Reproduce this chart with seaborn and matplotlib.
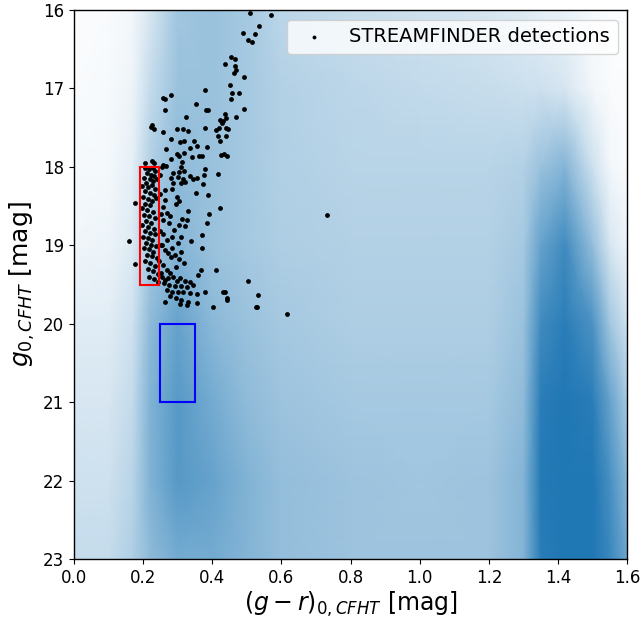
import numpy as np
import matplotlib
matplotlib.use("Agg")
import matplotlib.pyplot as plt
import seaborn as sns
import pandas as pd
from matplotlib.colors import LinearSegmentedColormap
from matplotlib.patches import Rectangle

# background field density (0 = empty, 1 = saturated)
grid_colour = [0.0, 0.1, 0.17, 0.22, 0.3, 0.4, 0.5, 0.6, 0.8, 1.0, 1.2, 1.3, 1.35, 1.42, 1.5, 1.55, 1.6]
grid_mag = [16, 17, 18, 19, 20, 21, 22, 23]
density_16 = [0.02, 0.03, 0.06, 0.18, 0.42, 0.45, 0.40, 0.30, 0.25, 0.22, 0.18, 0.15, 0.12, 0.10, 0.04, 0.02, 0.02]
density_17 = [0.03, 0.04, 0.08, 0.26, 0.45, 0.45, 0.40, 0.34, 0.30, 0.27, 0.25, 0.23, 0.22, 0.18, 0.06, 0.03, 0.02]
density_18 = [0.04, 0.05, 0.12, 0.35, 0.50, 0.45, 0.40, 0.35, 0.32, 0.32, 0.32, 0.34, 0.45, 0.55, 0.22, 0.06, 0.03]
density_19 = [0.07, 0.08, 0.16, 0.40, 0.55, 0.45, 0.40, 0.36, 0.34, 0.34, 0.34, 0.40, 0.68, 0.85, 0.48, 0.18, 0.08]
density_20 = [0.14, 0.14, 0.22, 0.50, 0.68, 0.52, 0.45, 0.40, 0.36, 0.36, 0.36, 0.45, 0.85, 0.95, 0.80, 0.42, 0.22]
density_21 = [0.18, 0.18, 0.27, 0.56, 0.75, 0.62, 0.50, 0.44, 0.40, 0.40, 0.40, 0.50, 0.95, 1.00, 0.95, 0.68, 0.40]
density_22 = [0.22, 0.22, 0.32, 0.56, 0.75, 0.68, 0.56, 0.48, 0.44, 0.42, 0.44, 0.55, 0.98, 1.00, 1.00, 0.82, 0.55]
density_23 = [0.26, 0.26, 0.36, 0.50, 0.62, 0.62, 0.55, 0.48, 0.44, 0.44, 0.44, 0.55, 0.95, 1.00, 1.00, 0.88, 0.65]

# STREAMFINDER detections (g-r, g)
sf_colour = [
    0.510, 0.569, 0.536, 0.490, 0.523, 0.504, 0.514, 0.453, 0.466, 0.438, 0.466, 0.470, 0.464, 0.492,
    0.452, 0.380, 0.477, 0.458, 0.453, 0.258, 0.265, 0.282, 0.264, 0.354, 0.382, 0.387, 0.492, 0.436,
    0.470, 0.325, 0.424, 0.432, 0.440, 0.427, 0.226, 0.223, 0.232, 0.257, 0.298, 0.315, 0.329, 0.380,
    0.412, 0.419, 0.439, 0.446, 0.281, 0.307, 0.319, 0.336, 0.347, 0.355, 0.416, 0.439, 0.424, 0.385,
    0.267, 0.299, 0.304, 0.319, 0.341, 0.362, 0.371, 0.425, 0.433, 0.443, 0.280,
    0.207, 0.226, 0.232, 0.258, 0.266, 0.255, 0.313, 0.311, 0.288, 0.305, 0.319, 0.380, 0.376, 0.417,
    0.280, 0.302, 0.316, 0.335, 0.344, 0.287, 0.309, 0.322, 0.374, 0.355, 0.263, 0.352, 0.388, 0.422,
    0.391, 0.297, 0.305, 0.176, 0.263, 0.258, 0.268, 0.258, 0.330, 0.312, 0.326, 0.305, 0.322, 0.384,
    0.371, 0.283, 0.311, 0.159, 0.258, 0.268, 0.254, 0.263, 0.273, 0.372, 0.285, 0.292, 0.309, 0.305,
    0.178, 0.369, 0.410, 0.359, 0.504,
    0.258, 0.268, 0.278, 0.254, 0.263, 0.273, 0.287, 0.297, 0.307, 0.321, 0.335, 0.260, 0.276, 0.292,
    0.311, 0.326, 0.345, 0.268, 0.283, 0.302, 0.316, 0.335, 0.355, 0.278, 0.295, 0.311, 0.331, 0.355,
    0.263, 0.307, 0.326, 0.437, 0.442, 0.533, 0.528, 0.615, 0.531, 0.444, 0.430, 0.403, 0.378, 0.732,
    0.205, 0.218, 0.228, 0.235, 0.212, 0.224, 0.232, 0.203, 0.219, 0.228, 0.240, 0.210,
    0.198, 0.215, 0.226, 0.236, 0.205, 0.221, 0.231, 0.199, 0.214, 0.227, 0.238, 0.207, 0.220,
    0.196, 0.212, 0.229, 0.203, 0.218, 0.234, 0.209, 0.224, 0.198, 0.215, 0.231,
    0.205, 0.220, 0.236, 0.199, 0.213, 0.227, 0.208, 0.222, 0.238, 0.202, 0.216, 0.230,
    0.211, 0.225, 0.240, 0.206, 0.220, 0.234, 0.213, 0.228, 0.243, 0.218, 0.232, 0.242,
    0.250, 0.248, 0.252, 0.249, 0.253, 0.247, 0.251,
    0.283, 0.295, 0.278, 0.290, 0.300, 0.282, 0.296, 0.275, 0.318, 0.340,
]
sf_mag = [
    16.04, 16.07, 16.21, 16.30, 16.31, 16.39, 16.41, 16.60, 16.62, 16.69, 16.72, 16.76, 16.81, 16.86,
    16.96, 17.02, 17.06, 17.06, 17.14, 17.12, 17.13, 17.09, 17.27, 17.20, 17.27, 17.27, 17.26, 17.33,
    17.36, 17.37, 17.40, 17.42, 17.38, 17.44, 17.47, 17.49, 17.52, 17.55, 17.52, 17.52, 17.54, 17.51,
    17.53, 17.51, 17.50, 17.52, 17.64, 17.68, 17.67, 17.76, 17.67, 17.73, 17.61, 17.61, 17.67, 17.75,
    17.77, 17.84, 17.86, 17.82, 17.87, 17.86, 17.86, 17.85, 17.84, 17.86, 17.90,
    17.95, 17.93, 17.95, 17.97, 17.99, 18.00, 17.94, 18.00, 18.08, 18.06, 18.05, 18.03, 18.10, 18.09,
    18.14, 18.13, 18.15, 18.12, 18.16, 18.21, 18.20, 18.19, 18.22, 18.14, 18.30, 18.33, 18.36, 18.52,
    18.60, 18.38, 18.44, 18.46, 18.42, 18.51, 18.59, 18.68, 18.56, 18.66, 18.68, 18.74, 18.75, 18.71,
    18.87, 18.90, 18.89, 18.95, 18.85, 18.93, 18.99, 19.06, 19.10, 19.04, 19.04, 19.12, 19.08, 19.17,
    19.24, 19.32, 19.32, 19.38, 19.46,
    19.25, 19.31, 19.35, 19.40, 19.44, 19.42, 19.40, 19.45, 19.42, 19.46, 19.47, 19.48, 19.50, 19.52,
    19.52, 19.53, 19.50, 19.57, 19.59, 19.60, 19.59, 19.61, 19.62, 19.65, 19.67, 19.69, 19.72, 19.73,
    19.72, 19.75, 19.76, 19.59, 19.67, 19.63, 19.78, 19.87, 19.79, 19.69, 19.60, 19.78, 19.60, 18.61,
    18.02, 18.03, 18.01, 18.05, 18.08, 18.10, 18.12, 18.14, 18.16, 18.18, 18.15, 18.20,
    18.24, 18.26, 18.23, 18.28, 18.31, 18.33, 18.36, 18.39, 18.41, 18.43, 18.40, 18.47, 18.49,
    18.53, 18.55, 18.57, 18.61, 18.63, 18.65, 18.69, 18.71, 18.74, 18.77, 18.79,
    18.82, 18.84, 18.86, 18.89, 18.91, 18.93, 18.97, 18.99, 19.01, 19.03, 19.05, 19.08,
    19.12, 19.14, 19.16, 19.20, 19.23, 19.26, 19.30, 19.33, 19.36, 19.40, 19.43, 19.47,
    18.10, 18.35, 18.60, 18.82, 19.00, 19.20, 19.35,
    18.28, 18.47, 18.62, 18.80, 18.97, 19.15, 19.28, 18.72, 19.22, 18.95,
]

# selection boxes: (colour min, colour max, mag min, mag max)
red_box = (0.19, 0.245, 18.0, 19.5)
blue_box = (0.25, 0.35, 20.0, 21.0)

sns.set_style("ticks")
plt.rcParams["font.family"] = ["DejaVu Sans"]
plt.rcParams["mathtext.fontset"] = "dejavusans"
for key in ["text.color", "axes.labelcolor", "xtick.color", "ytick.color", "axes.edgecolor"]:
    plt.rcParams[key] = "black"

fig = plt.figure(figsize=(6.42, 6.18), dpi=100)
ax = fig.add_axes([0.115, 0.095, 0.862, 0.889])

density = np.array([density_16, density_17, density_18, density_19,
                    density_20, density_21, density_22, density_23])
gx, gy = np.meshgrid(grid_colour, grid_mag)
field_cmap = LinearSegmentedColormap.from_list("field", ["#ffffff", "#1f77b4"])
ax.pcolormesh(gx, gy, density, cmap=field_cmap, vmin=0, vmax=1, shading="gouraud", zorder=0)

df = pd.DataFrame({"colour": sf_colour, "mag": sf_mag})
sns.scatterplot(data=df, x="colour", y="mag", ax=ax, color="black", s=12,
                linewidth=0, label="STREAMFINDER detections", zorder=3)

for box, col in [(red_box, "red"), (blue_box, "blue")]:
    ax.add_patch(Rectangle((box[0], box[2]), box[1] - box[0], box[3] - box[2],
                           fill=False, edgecolor=col, linewidth=1.5, zorder=4))

ax.set_xlim(0, 1.6)
ax.set_ylim(23, 16)
ax.set_xticks(np.arange(0, 1.61, 0.2))
ax.set_yticks(range(16, 24))
ax.tick_params(labelsize=12)
ax.set_xlabel(r"$(g-r)_{0,CFHT}$ [mag]", fontsize=17, labelpad=2)
ax.set_ylabel(r"$g_{0,CFHT}$ [mag]", fontsize=18)
for sp in ax.spines.values():
    sp.set_visible(True)
    sp.set_linewidth(1.0)

ax.legend(loc="upper right", fontsize=14, frameon=True, markerscale=0.8)

fig.savefig("out.png", dpi=100)
